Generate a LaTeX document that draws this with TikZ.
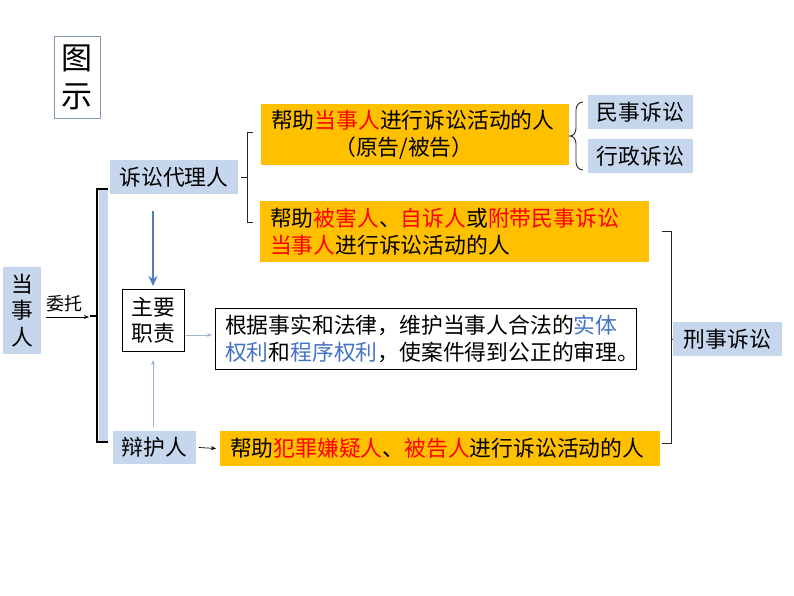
\documentclass[tikz,border=0pt]{standalone}
\usepackage{fontspec}
\setmainfont{Noto Sans CJK SC}
\usetikzlibrary{arrows.meta,positioning}
\definecolor{gold}{HTML}{FFC000}
\definecolor{lblue}{HTML}{C6D6EC}
\definecolor{txtred}{HTML}{FF0000}
\definecolor{txtblue}{HTML}{4472C4}
\definecolor{arrblue}{HTML}{4F7FBF}
\definecolor{arrlight}{HTML}{9DB3D3}
\definecolor{frame}{HTML}{8497B0}
\newcommand{\rd}[1]{\textcolor{txtred}{#1}}
\newcommand{\bl}[1]{\textcolor{txtblue}{#1}}
\tikzset{
  x=1pt, y=-1pt,
  every node/.style={inner sep=0pt, outer sep=0pt, font=\fontsize{21.8}{27}\selectfont},
  lbox/.style={fill=lblue, anchor=north west},
  obox/.style={fill=gold, anchor=north west, align=left},
  wbox/.style={draw=black, line width=0.9pt, fill=white, anchor=north west},
  thinbr/.style={draw=black!85, line width=0.9pt},
  thickbr/.style={draw=black, line width=2.6pt},
  smallarr/.style={line width=0.8pt, -{Stealth[length=5pt,width=4pt]}},
}
\begin{document}
\begin{tikzpicture}
\useasboundingbox (0,0) rectangle (794,596);
% title
\node[draw=frame, line width=0.8pt, anchor=north west, minimum width=46pt, minimum height=82pt, align=center,
      font=\fontsize{31}{38}\selectfont] (tushi) at (54,36) {图\\示};
% party
\node[lbox, minimum width=38pt, minimum height=87pt, align=center, font=\fontsize{21.8}{26.5}\selectfont]
      (dsr) at (3,267) {当\\事\\人};
% big left bracket
\fill[lblue] (99,189) rectangle (108,442);
\coordinate (bkmid) at (90,316);
\draw[thickbr] (108,189) -- (97,189) -- (97,442) -- (108,442);
\draw[thickbr] (97,316) -- (bkmid);
\coordinate (wtstart) at (46,317);
\coordinate (wtend) at (89,317);
\node[font=\fontsize{18}{20}\selectfont] (weituo) at (64,304) {委托};
\draw[smallarr, line width=0.7pt] (wtstart) -- (wtend);
% agent
\node[lbox, minimum width=128pt, minimum height=34pt] (daili) at (110,160) {诉讼代理人};
% agent brace
\coordinate (b1mid) at (241,177);
\draw[thinbr] (253,132) -- (247,132) -- (247,222) -- (253,222);
\draw[thinbr] (247,177) -- (b1mid);
% orange 1
\node[obox, text width=288pt, minimum height=61pt, inner xsep=10pt] (o1) at (261,104)
  {帮助\rd{当事人}进行诉讼活动的人\\\hspace*{2.9em}（原告/被告）};
% curly brace
\draw[thinbr] (583,102) to[out=180,in=90] (576,110) -- (576,128) to[out=-90,in=0] (570,136)
  to[out=0,in=90] (576,144) -- (576,162) to[out=-90,in=180] (583,170);
\node[lbox, minimum width=105pt, minimum height=34pt] (minshi) at (588,95) {民事诉讼};
\node[lbox, minimum width=105pt, minimum height=34pt] (xingzheng) at (588,139) {行政诉讼};
% orange 2
\node[obox, text width=369pt, minimum height=61pt, inner xsep=10pt] (o2) at (260,201)
  {帮助\rd{被害人}、\rd{自诉人}或\rd{附带民事诉讼}\\\rd{当事人}进行诉讼活动的人};
% duties
\node[wbox, minimum width=62pt, minimum height=62pt, align=center, font=\fontsize{21.8}{26}\selectfont]
  (zhize) at (122,289) {主要\\职责};
\coordinate (dnstart) at (153,211);
\coordinate (dnend) at (153,286);
\draw[arrblue, line width=2.2pt, -{Stealth[length=10pt,width=9pt]}] (dnstart) -- (dnend);
\node[wbox, text width=401pt, minimum height=61pt, inner xsep=10pt, align=left] (genju) at (215,308)
  {根据事实和法律，维护当事人合法的\bl{实体}\\\bl{权利}和\bl{程序权利}，使案件得到公正的审理。};
\coordinate (rtstart) at (186,335);
\coordinate (rtend) at (212,335);
\draw[arrlight, smallarr] (rtstart) -- (rtend);
% defender
\node[lbox, minimum width=83pt, minimum height=33pt] (bianhu) at (113,431) {辩护人};
\coordinate (upstart) at (153,427);
\coordinate (upend) at (153,360);
\draw[arrlight, smallarr, line width=1pt] (upstart) -- (upend);
\node[obox, minimum width=440pt, minimum height=35pt, inner xsep=10pt, text width=420pt] (o3) at (220,431)
  {帮助\rd{犯罪嫌疑人}、\rd{被告人}进行诉讼活动的人};
\draw[smallarr, line width=0.7pt] ([xshift=3pt]bianhu.east) -- ([xshift=-4pt]o3.west);
% right bracket
\node[lbox, minimum width=109pt, minimum height=34pt] (xingshi) at (673,322) {刑事诉讼};
\draw[thinbr] (662,231) -- (671,231) -- (671,443) -- (662,443);
\draw[thinbr] (671,339) -- (xingshi.west);
\end{tikzpicture}
\end{document}
